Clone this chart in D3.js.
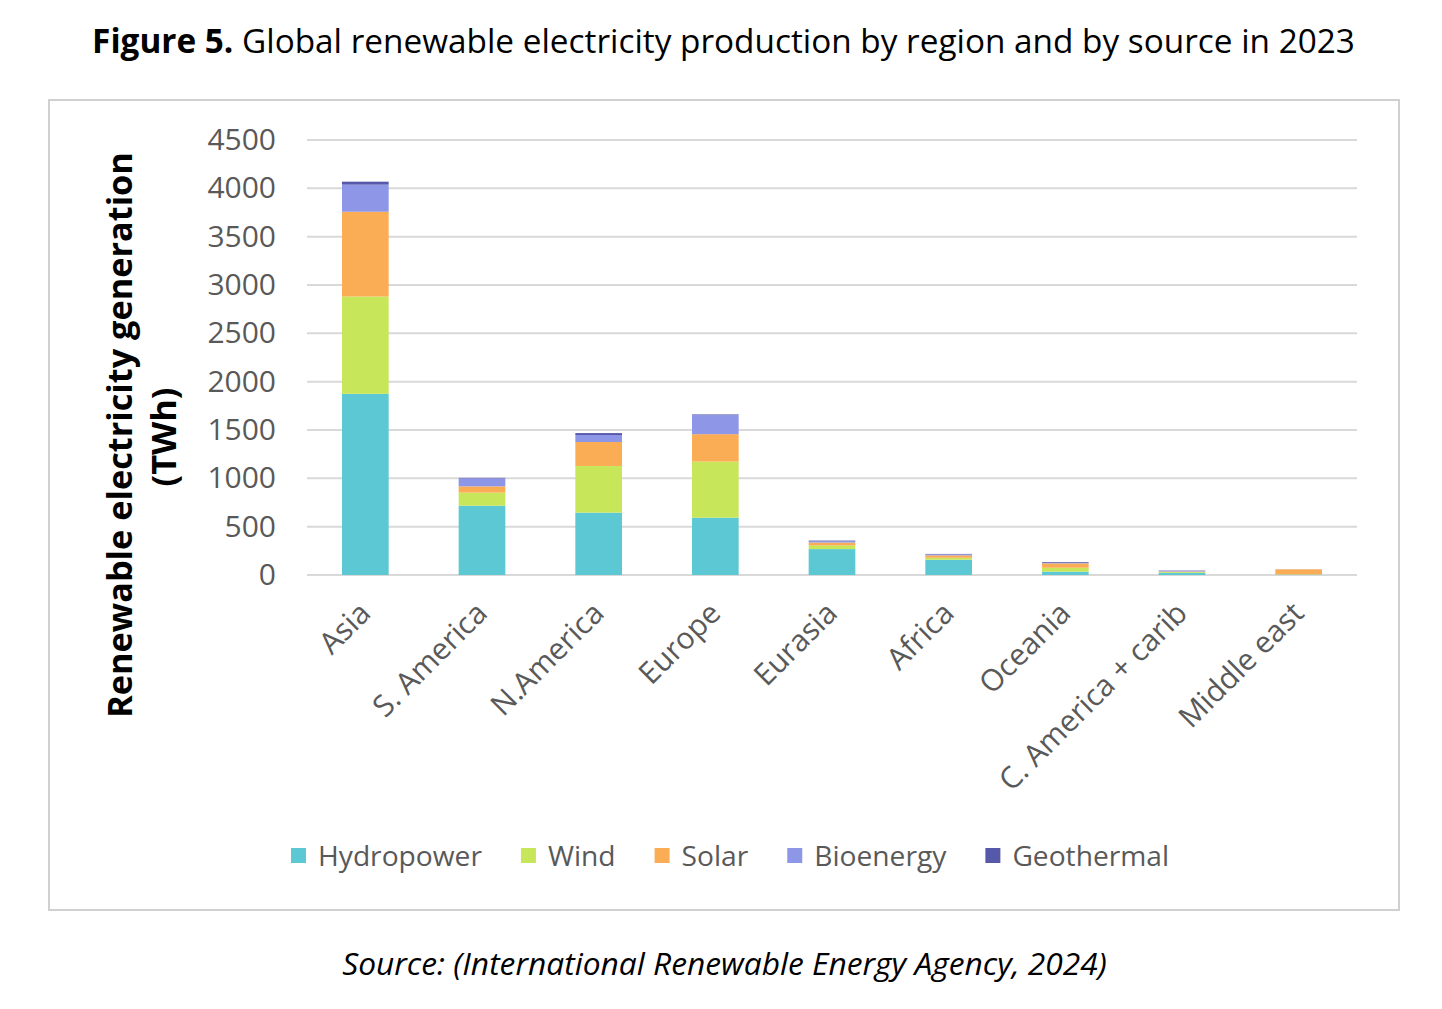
<!DOCTYPE html>
<html><head><meta charset="utf-8">
<script src="https://cdn.jsdelivr.net/npm/d3@7"></script>
<style>body{margin:0;background:#fff;} svg{display:block;}</style>
</head><body><svg id="c" width="1442" height="1009"></svg>
<script>
const regions = ["Asia","S. America","N.America","Europe","Eurasia","Africa","Oceania","C. America + carib","Middle east"];
const sources = ["Hydropower","Wind","Solar","Bioenergy","Geothermal"];
const hydropower = [1874,717,645,593,268,158,35,22,4];
const wind       = [1007,135,483,580,38,20,40,8,3];
const solar      = [877,65,248,284,30,25,45,6,52];
const bioenergy  = [280,83,72,197,14,10,5,6,1];
const geothermal = [31,5,20,7,6,5,8,4,0];
const yTicks = [0,500,1000,1500,2000,2500,3000,3500,4000,4500];
const colors = ["#5bc8d3","#c8e65a","#fbad55","#8e96e8","#5659aa"];

const FONT = "'Open Sans', 'Noto Sans', sans-serif";
const svg = d3.select("#c");

function fit(sel, w){
  const len = sel.node().getComputedTextLength();
  const fs = parseFloat(sel.attr("font-size"));
  sel.attr("font-size", fs*w/len);
}

// Title
const title = svg.append("text").attr("x", 723.5).attr("y", 53).attr("text-anchor","middle")
  .attr("font-family", FONT).attr("font-size", 32).attr("fill","#000");
title.append("tspan").attr("font-weight","bold").text("Figure 5.");
title.append("tspan").text(" Global renewable electricity production by region and by source in 2023");
fit(title, 1263);

// Frame
svg.append("rect").attr("x",49).attr("y",100).attr("width",1350).attr("height",810)
  .attr("fill","none").attr("stroke","#d0d0d0").attr("stroke-width",2);

// Scales
const x = d3.scaleBand().domain(regions).range([307,1357]).paddingInner(0.6).paddingOuter(0.3);
const y = d3.scaleLinear().domain([0,4500]).range([575,140]);

// Gridlines
svg.append("g").selectAll("line").data(yTicks).join("line")
  .attr("x1",307).attr("x2",1357).attr("y1",d=>y(d)).attr("y2",d=>y(d))
  .attr("stroke","#d9d9d9").attr("stroke-width",2);

// Y axis labels
const yAxis = d3.axisLeft(y).tickValues(yTicks).tickSize(0).tickPadding(0).tickFormat(d3.format("d"));
const gy = svg.append("g").attr("transform","translate(276,0)").call(yAxis);
gy.select(".domain").remove();
gy.selectAll("text").attr("font-family",FONT).attr("font-size",30).attr("fill","#595959");

// Stacked data
const table = regions.map((r,i)=>({region:r, Hydropower:hydropower[i], Wind:wind[i], Solar:solar[i], Bioenergy:bioenergy[i], Geothermal:geothermal[i]}));
const stacked = d3.stack().keys(sources)(table);
const color = d3.scaleOrdinal().domain(sources).range(colors);

svg.append("g").selectAll("g").data(stacked).join("g").attr("fill",d=>color(d.key))
  .selectAll("rect").data(d=>d).join("rect")
  .attr("x",d=>x(d.data.region)).attr("width",x.bandwidth())
  .attr("y",d=>y(d[1])).attr("height",d=>Math.max(0,y(d[0])-y(d[1])));

// X labels
svg.append("g").selectAll("text").data(regions).join("text")
  .attr("transform",d=>`translate(${x(d)+x.bandwidth()/2+7},${615}) rotate(-45)`)
  .attr("text-anchor","end").attr("font-family",FONT).attr("font-size",30).attr("fill","#595959")
  .text(d=>d);

// Y title
const yt1 = svg.append("text").attr("transform","translate(132,435) rotate(-90)")
  .attr("text-anchor","middle").attr("font-family",FONT).attr("font-weight","bold")
  .attr("font-size",30).attr("fill","#000").text("Renewable electricity generation");
fit(yt1, 566);
const yt2 = svg.append("text").attr("transform","translate(176,437) rotate(-90)")
  .attr("text-anchor","middle").attr("font-family",FONT).attr("font-weight","bold")
  .attr("font-size",30).attr("fill","#000").text("(TWh)");
fit(yt2, 99);

// Legend
const leg = svg.append("g");
const probe = leg.append("text").attr("font-family",FONT).attr("font-size",28).text("Hydropower");
fit(probe, 164);
const legFs = parseFloat(probe.attr("font-size"));
probe.remove();
let lx = 291;
sources.forEach((s,i)=>{
  leg.append("rect").attr("x",lx).attr("y",848).attr("width",15).attr("height",15).attr("fill",colors[i]);
  const t = leg.append("text").attr("x",lx+27).attr("y",866).attr("font-family",FONT)
    .attr("font-size",legFs).attr("fill","#595959").text(s);
  lx = lx + 27 + t.node().getComputedTextLength() + 39;
});

// Source
const src = svg.append("text").attr("x",724.5).attr("y",975).attr("text-anchor","middle")
  .attr("font-family",FONT).attr("font-style","italic").attr("font-size",27).attr("fill","#000")
  .text("Source: (International Renewable Energy Agency, 2024)");
fit(src, 765);
</script></body></html>
